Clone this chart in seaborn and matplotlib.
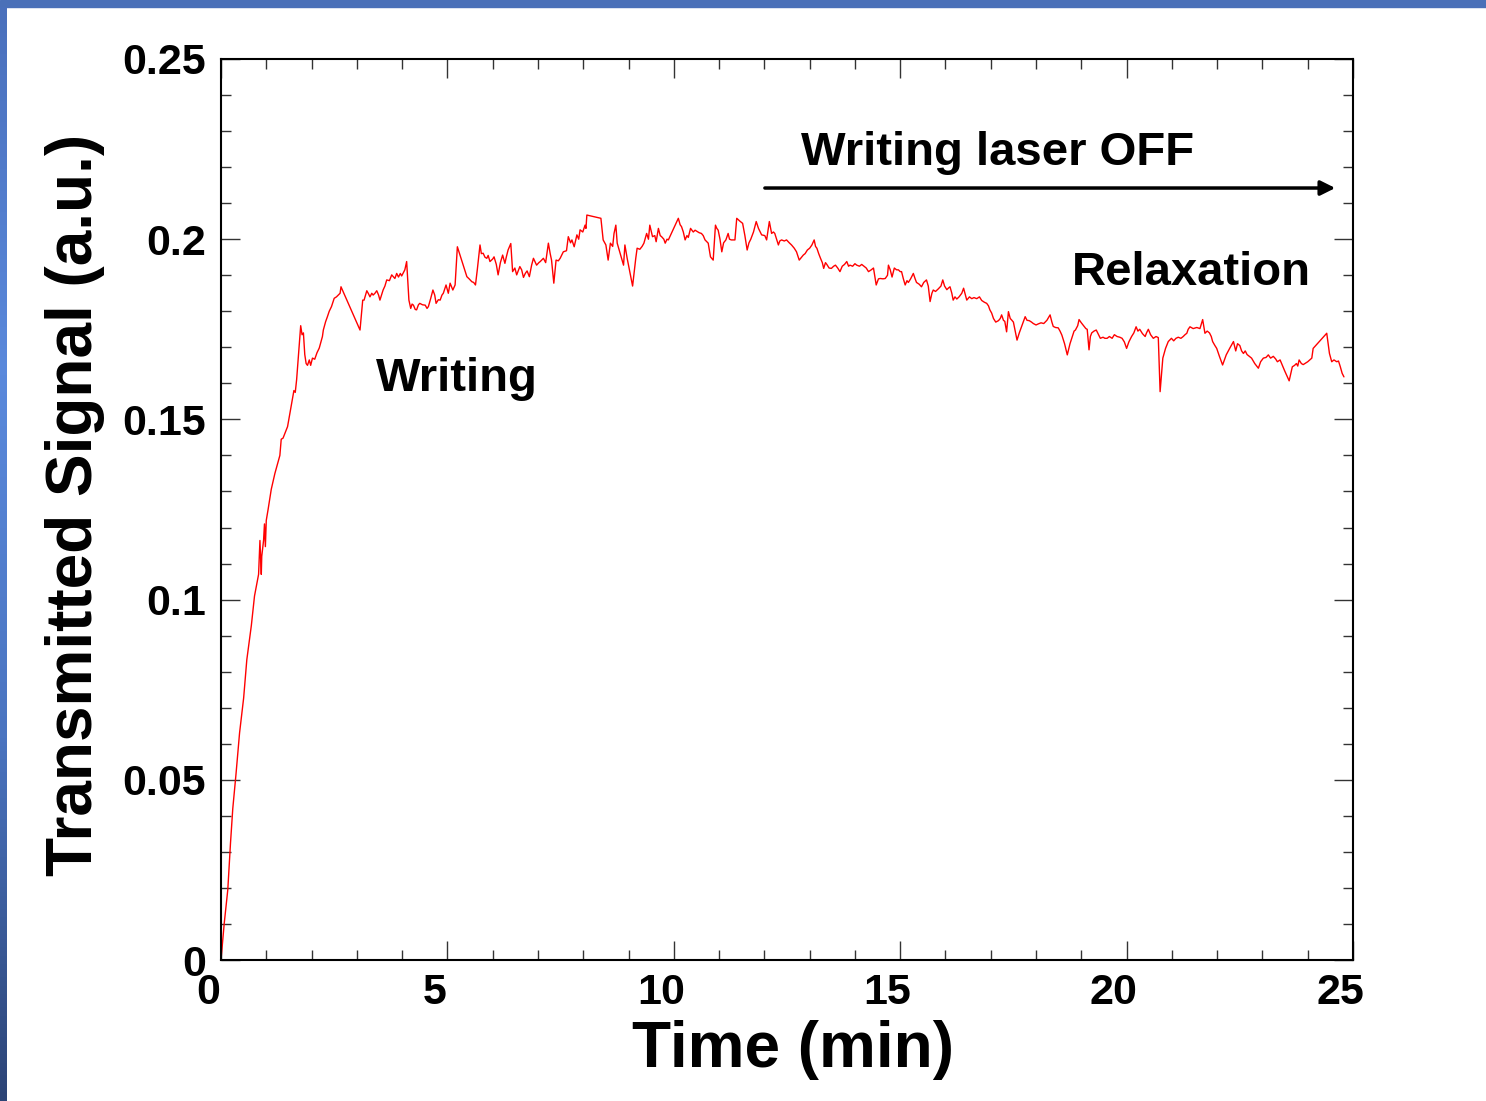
import numpy as np
import pandas as pd
import matplotlib
matplotlib.use("Agg")
import matplotlib.pyplot as plt
import matplotlib.transforms as mtransforms
from matplotlib.colors import LinearSegmentedColormap
from matplotlib.patches import Rectangle
from matplotlib.ticker import MultipleLocator
import seaborn as sns

# Transmitted signal (time in min, signal in a.u.)
time_min = [
    0.00, 0.07, 0.15, 0.21, 0.26, 0.33, 0.41, 0.50, 0.57, 0.67, 0.74, 0.83, 0.86, 0.89, 0.90, 0.94,
    0.96, 0.98, 1.00, 1.04, 1.11, 1.19, 1.30, 1.33, 1.37, 1.47, 1.54, 1.61, 1.64, 1.67, 1.70, 1.72,
    1.76, 1.79, 1.82, 1.85, 1.88, 1.91, 1.95, 1.98, 2.02, 2.07, 2.12, 2.17, 2.24, 2.26, 2.31, 2.35,
    2.39, 2.44, 2.50, 2.55, 2.59, 2.63, 2.65, 3.07, 3.13, 3.16, 3.22, 3.26, 3.29, 3.33, 3.36, 3.40,
    3.44, 3.48, 3.51, 3.58, 3.62, 3.66, 3.72, 3.77, 3.84, 3.88, 3.92, 3.96, 3.99, 4.06, 4.10, 4.15,
    4.19, 4.22, 4.25, 4.29, 4.32, 4.36, 4.39, 4.45, 4.51, 4.55, 4.58, 4.63, 4.68, 4.72, 4.75, 4.80,
    4.84, 4.88, 4.91, 4.97, 5.02, 5.06, 5.12, 5.17, 5.22, 5.43, 5.48, 5.54, 5.58, 5.62, 5.66, 5.72,
    5.75, 5.79, 5.83, 5.87, 5.90, 5.94, 6.00, 6.03, 6.08, 6.12, 6.17, 6.22, 6.27, 6.30, 6.34, 6.40,
    6.44, 6.49, 6.53, 6.60, 6.64, 6.68, 6.72, 6.76, 6.81, 6.86, 6.90, 6.97, 7.02, 7.05, 7.12, 7.17,
    7.23, 7.27, 7.30, 7.35, 7.40, 7.45, 7.49, 7.56, 7.63, 7.67, 7.72, 7.75, 7.80, 7.86, 7.90, 7.93,
    7.99, 8.04, 8.06, 8.08, 8.39, 8.44, 8.50, 8.55, 8.60, 8.65, 8.68, 8.72, 8.75, 8.89, 8.92, 8.97,
    9.09, 9.16, 9.19, 9.25, 9.30, 9.34, 9.40, 9.44, 9.47, 9.53, 9.58, 9.61, 9.66, 9.70, 9.73, 9.78,
    9.81, 9.85, 9.88, 10.10, 10.14, 10.17, 10.21, 10.25, 10.29, 10.32, 10.37, 10.43, 10.47, 10.51, 10.56, 10.61,
    10.65, 10.69, 10.76, 10.81, 10.87, 10.92, 10.95, 10.98, 11.02, 11.06, 11.10, 11.15, 11.20, 11.23, 11.27, 11.35,
    11.39, 11.46, 11.52, 11.57, 11.62, 11.66, 11.70, 11.76, 11.82, 11.87, 11.91, 11.94, 12.01, 12.05, 12.11, 12.16,
    12.20, 12.23, 12.27, 12.31, 12.34, 12.38, 12.44, 12.49, 12.55, 12.60, 12.66, 12.71, 12.77, 12.82, 12.86, 12.90,
    12.95, 13.00, 13.05, 13.10, 13.13, 13.16, 13.20, 13.24, 13.28, 13.31, 13.35, 13.38, 13.43, 13.48, 13.53, 13.57,
    13.62, 13.67, 13.72, 13.77, 13.82, 13.86, 13.89, 13.95, 14.00, 14.04, 14.10, 14.15, 14.19, 14.25, 14.30, 14.36,
    14.41, 14.47, 14.52, 14.56, 14.62, 14.67, 14.72, 14.74, 14.78, 14.82, 14.87, 14.92, 14.96, 15.00, 15.03, 15.07,
    15.11, 15.15, 15.18, 15.23, 15.29, 15.33, 15.36, 15.42, 15.47, 15.52, 15.58, 15.62, 15.66, 15.70, 15.73, 15.78,
    15.84, 15.90, 15.94, 15.98, 16.03, 16.07, 16.10, 16.14, 16.17, 16.21, 16.25, 16.30, 16.36, 16.40, 16.44, 16.47,
    16.53, 16.58, 16.63, 16.69, 16.75, 16.80, 16.86, 16.91, 16.95, 16.98, 17.02, 17.06, 17.11, 17.17, 17.21, 17.24,
    17.28, 17.31, 17.35, 17.39, 17.43, 17.46, 17.50, 17.54, 17.58, 17.63, 17.68, 17.72, 17.76, 17.80, 17.85, 17.90,
    17.94, 18.00, 18.05, 18.11, 18.17, 18.24, 18.31, 18.35, 18.38, 18.43, 18.49, 18.53, 18.57, 18.63, 18.69, 18.75,
    18.80, 18.84, 18.87, 18.92, 18.95, 19.00, 19.05, 19.10, 19.13, 19.17, 19.20, 19.23, 19.28, 19.33, 19.38, 19.42,
    19.48, 19.52, 19.57, 19.62, 19.68, 19.73, 19.79, 19.85, 19.90, 19.95, 20.00, 20.05, 20.11, 20.16, 20.21, 20.25,
    20.29, 20.35, 20.41, 20.44, 20.48, 20.53, 20.59, 20.65, 20.70, 20.74, 20.80, 20.86, 20.92, 20.99, 21.04, 21.09,
    21.14, 21.20, 21.25, 21.29, 21.33, 21.36, 21.40, 21.47, 21.55, 21.62, 21.68, 21.73, 21.78, 21.83, 21.87, 21.90,
    21.95, 21.99, 22.05, 22.12, 22.16, 22.20, 22.28, 22.36, 22.41, 22.45, 22.50, 22.54, 22.58, 22.62, 22.66, 22.71,
    22.76, 22.83, 22.91, 22.96, 23.02, 23.08, 23.13, 23.18, 23.24, 23.29, 23.33, 23.39, 23.49, 23.59, 23.63, 23.66,
    23.71, 23.75, 23.78, 23.81, 23.86, 23.90, 24.00, 24.09, 24.12, 24.42, 24.48, 24.53, 24.58, 24.64, 24.68, 24.72,
    24.76, 24.80,
]
signal = [
    0.000, 0.010, 0.0195, 0.0325, 0.042, 0.0514, 0.063, 0.0727, 0.0833, 0.0928, 0.101, 0.107, 0.1164, 0.107, 0.112, 0.1164,
    0.121, 0.1147, 0.122, 0.125, 0.1306, 0.135, 0.140, 0.1445, 0.1448, 0.148, 0.153, 0.158, 0.1575, 0.161, 0.166, 0.1697,
    0.176, 0.1735, 0.174, 0.168, 0.1655, 0.165, 0.1665, 0.165, 0.167, 0.1667, 0.1685, 0.1698, 0.173, 0.1748, 0.1771, 0.1785,
    0.180, 0.1813, 0.1836, 0.1840, 0.1845, 0.1850, 0.1868, 0.1748, 0.1831, 0.1831, 0.1857, 0.1848, 0.184, 0.1850, 0.1845, 0.1850,
    0.1857, 0.1845, 0.1831, 0.1859, 0.1870, 0.1887, 0.1885, 0.1901, 0.1891, 0.1905, 0.1895, 0.1905, 0.1898, 0.1915, 0.1938, 0.1831,
    0.1808, 0.1820, 0.1817, 0.1805, 0.1804, 0.1818, 0.1822, 0.1818, 0.1817, 0.1808, 0.1813, 0.1835, 0.1859, 0.1845, 0.1822, 0.1832,
    0.1831, 0.1845, 0.185, 0.1873, 0.185, 0.1878, 0.1859, 0.1873, 0.1979, 0.1896, 0.1890, 0.1882, 0.1880, 0.1873, 0.1915, 0.1984,
    0.1960, 0.1961, 0.1950, 0.1947, 0.1955, 0.1938, 0.1945, 0.1951, 0.1930, 0.1901, 0.1935, 0.1956, 0.1933, 0.1950, 0.197, 0.1988,
    0.191, 0.1920, 0.1901, 0.1924, 0.1915, 0.1894, 0.1905, 0.1912, 0.1896, 0.1928, 0.1947, 0.1928, 0.1935, 0.1938, 0.1947, 0.1935,
    0.1989, 0.1960, 0.1942, 0.1878, 0.1942, 0.1940, 0.1947, 0.1965, 0.1968, 0.2007, 0.1990, 0.1998, 0.1979, 0.2012, 0.2000, 0.2026,
    0.2020, 0.2039, 0.2030, 0.2067, 0.2058, 0.1998, 0.1984, 0.1942, 0.1989, 0.1980, 0.2016, 0.2039, 0.1989, 0.1928, 0.1984, 0.1947,
    0.187, 0.1947, 0.1975, 0.1972, 0.1980, 0.1989, 0.2016, 0.2000, 0.2039, 0.2007, 0.2010, 0.1993, 0.203, 0.2010, 0.2007, 0.2000,
    0.1989, 0.2000, 0.1998, 0.2058, 0.2040, 0.2035, 0.2020, 0.1998, 0.2010, 0.2005, 0.203, 0.2020, 0.2025, 0.2022, 0.2018, 0.2016,
    0.2010, 0.1998, 0.1989, 0.1951, 0.1942, 0.2039, 0.2030, 0.2025, 0.2000, 0.1965, 0.1990, 0.1998, 0.2016, 0.2000, 0.1998, 0.1998,
    0.2058, 0.2050, 0.2044, 0.2010, 0.197, 0.1990, 0.2000, 0.2020, 0.2049, 0.2030, 0.2020, 0.2012, 0.2010, 0.1998, 0.2049, 0.2016,
    0.2020, 0.2016, 0.2000, 0.1984, 0.1995, 0.1998, 0.1995, 0.1998, 0.1990, 0.1984, 0.1975, 0.1965, 0.1942, 0.1950, 0.1956, 0.1960,
    0.197, 0.1975, 0.1984, 0.1998, 0.1980, 0.1975, 0.1960, 0.1947, 0.1935, 0.1919, 0.1935, 0.1930, 0.1920, 0.1919, 0.1925, 0.1928,
    0.1920, 0.191, 0.1925, 0.1930, 0.1938, 0.1925, 0.1928, 0.1925, 0.1932, 0.1928, 0.1925, 0.1930, 0.1926, 0.1920, 0.191, 0.1915,
    0.1920, 0.1873, 0.1890, 0.1891, 0.1890, 0.1891, 0.1900, 0.1928, 0.1915, 0.1895, 0.1920, 0.1915, 0.1915, 0.1910, 0.1910, 0.1890,
    0.1873, 0.1885, 0.1880, 0.1890, 0.1905, 0.1890, 0.1880, 0.1875, 0.1868, 0.1880, 0.1887, 0.1870, 0.1827, 0.1850, 0.1859, 0.1855,
    0.1862, 0.1870, 0.1887, 0.1870, 0.1860, 0.1865, 0.1868, 0.1850, 0.1831, 0.1840, 0.1834, 0.1840, 0.1850, 0.1864, 0.1845, 0.1831,
    0.1840, 0.1835, 0.1838, 0.1835, 0.1840, 0.1830, 0.1825, 0.1822, 0.1815, 0.1804, 0.1795, 0.178, 0.1770, 0.1774, 0.1780, 0.179,
    0.1775, 0.1772, 0.1743, 0.1799, 0.1780, 0.1776, 0.1770, 0.1745, 0.172, 0.1740, 0.1757, 0.1770, 0.1785, 0.1775, 0.1774, 0.1770,
    0.1766, 0.1762, 0.1765, 0.1768, 0.1766, 0.1775, 0.179, 0.1770, 0.1758, 0.1755, 0.1754, 0.1745, 0.1734, 0.1710, 0.1679, 0.1710,
    0.173, 0.1745, 0.1748, 0.1760, 0.1777, 0.1768, 0.1760, 0.1752, 0.1750, 0.1693, 0.1730, 0.1740, 0.1745, 0.1748, 0.1735, 0.1725,
    0.1728, 0.1725, 0.1725, 0.1730, 0.1725, 0.1735, 0.1730, 0.1728, 0.1725, 0.1715, 0.1697, 0.1715, 0.1730, 0.1740, 0.1757, 0.1745,
    0.1750, 0.1738, 0.1730, 0.1740, 0.1750, 0.1735, 0.1725, 0.1730, 0.1727, 0.1577, 0.167, 0.1697, 0.1716, 0.1725, 0.1718, 0.1725,
    0.1728, 0.1725, 0.1730, 0.1735, 0.1739, 0.1750, 0.1757, 0.1752, 0.1755, 0.1752, 0.1777, 0.1739, 0.1745, 0.1740, 0.1730, 0.1716,
    0.1705, 0.1697, 0.1675, 0.1651, 0.1665, 0.1679, 0.1698, 0.1716, 0.1690, 0.1710, 0.1705, 0.1690, 0.1683, 0.1690, 0.1680, 0.1675,
    0.1670, 0.1655, 0.1642, 0.1660, 0.1670, 0.1672, 0.1679, 0.1670, 0.1675, 0.1668, 0.1660, 0.1665, 0.1635, 0.1607, 0.1630, 0.1646,
    0.1650, 0.1655, 0.1648, 0.1665, 0.1655, 0.1652, 0.1660, 0.167, 0.1697, 0.1739, 0.1683, 0.166, 0.1665, 0.1660, 0.1662, 0.1646,
    0.1628, 0.1618,
]

x_ticks = [0, 5, 10, 15, 20, 25]
x_tick_labels = ["0", "5", "10", "15", "20", "25"]
y_ticks = [0, 0.05, 0.1, 0.15, 0.2, 0.25]
y_tick_labels = ["0", "0.05", "0.1", "0.15", "0.2", "0.25"]

df = pd.DataFrame({"time": time_min, "signal": signal})

sns.set_style("ticks")
plt.rcParams["font.family"] = ["Liberation Sans", "DejaVu Sans"]
plt.rcParams["font.weight"] = "bold"
plt.rcParams["text.color"] = "black"
plt.rcParams["axes.labelcolor"] = "black"
plt.rcParams["xtick.color"] = "black"
plt.rcParams["ytick.color"] = "black"

W, H = 1486, 1101
fig = plt.figure(figsize=(W / 100, H / 100), dpi=100)
fig.patch.set_facecolor("white")

# slide frame: blue strip on top and gradient strip on the left
fig.add_artist(Rectangle((0, 1 - 7 / H), 1, 7 / H, transform=fig.transFigure,
                         color="#4a70b8", zorder=0))
bax = fig.add_axes([0, 0, 7 / W, 1 - 7 / H])
grad = np.linspace(0, 1, 256).reshape(-1, 1)
cmap = LinearSegmentedColormap.from_list("frame", ["#4a70bc", "#5a89dc", "#4a74c0", "#2c4476"])
bax.imshow(grad, aspect="auto", cmap=cmap)
bax.axis("off")

ax = fig.add_axes([221 / W, 1 - 960 / H, (1353 - 221) / W, (960 - 59) / H])
sns.lineplot(data=df, x="time", y="signal", ax=ax, color="#ff0000", lw=1.0,
             estimator=None, sort=False)

ax.set_xlim(0, 25)
ax.set_ylim(0, 0.25)
ax.set_xticks(x_ticks)
ax.set_xticklabels(x_tick_labels)
ax.set_yticks(y_ticks)
ax.set_yticklabels(y_tick_labels)
ax.xaxis.set_minor_locator(MultipleLocator(1))
ax.yaxis.set_minor_locator(MultipleLocator(0.01))

ax.tick_params(which="both", direction="in", top=True, right=True, color="#333333", width=1,
               labelcolor="black")
ax.tick_params(which="major", length=14)
ax.tick_params(which="minor", length=7)
ax.tick_params(axis="x", which="major", labelsize=31, pad=9)
ax.tick_params(axis="y", which="major", labelsize=31, pad=11)
for spine in ax.spines.values():
    spine.set_linewidth(1.5)
    spine.set_color("black")

# x tick labels sit slightly left of their ticks in the reference
shift = mtransforms.ScaledTranslation(-13 / 100, 0, fig.dpi_scale_trans)
for lab in ax.get_xticklabels():
    lab.set_transform(lab.get_transform() + shift)
    lab.set_fontweight("bold")
for lab in ax.get_yticklabels():
    lab.set_fontweight("bold")

ax.set_xlabel("Time (min)", fontsize=46, fontweight="bold", va="center", color="black")
ax.xaxis.set_label_coords((793 - 221) / 1132, (960 - 1050) / 901)
ax.set_ylabel("Transmitted Signal (a.u.)", fontsize=46, fontweight="bold", va="center", color="black")
ax.yaxis.set_label_coords((75 - 221) / 1132, (960 - 505) / 901)

ax.text(5.21, 0.1612, "Writing", fontsize=34, fontweight="bold", ha="center", va="center", color="black")
ax.text(17.14, 0.2239, "Writing laser OFF", fontsize=34, fontweight="bold", ha="center", va="center",
        color="black")
ax.text(21.42, 0.1906, "Relaxation", fontsize=34, fontweight="bold", ha="center", va="center", color="black")
ax.annotate("", xy=(24.67, 0.2142), xytext=(11.95, 0.2142),
            arrowprops=dict(arrowstyle="-|>", color="black", lw=2.5, mutation_scale=22))

fig.savefig("out.png", dpi=100)
